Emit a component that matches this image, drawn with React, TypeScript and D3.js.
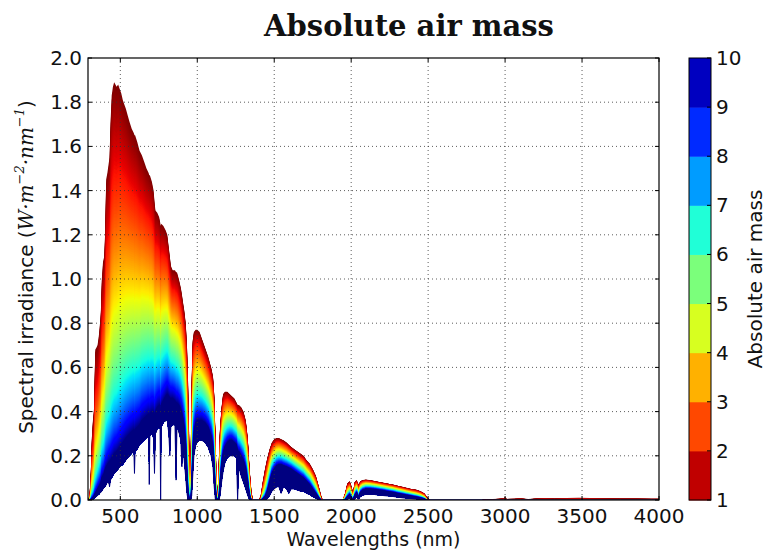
import React from "react";
import * as d3 from "d3";

// ---- data ----
const WAVELENGTH = [
  290, 300, 308, 315, 322, 330, 337, 345, 352, 360,
  368, 374, 380, 388, 395, 402, 408, 416, 424, 430,
  436, 444, 452, 460, 468, 476, 486, 496, 506, 516,
  526, 536, 548, 560, 574, 588, 592, 596, 610, 625,
  640, 655, 670, 684, 688, 692, 705, 716, 722, 728,
  740, 752, 758, 762, 766, 780, 795, 805, 815, 822,
  828, 840, 855, 862, 868, 880, 893, 900, 906, 915,
  925, 933, 940, 947, 953, 958, 964, 970, 978, 990,
  1000, 1015, 1030, 1050, 1070, 1090, 1102, 1110, 1118, 1125,
  1133, 1141, 1148, 1158, 1168, 1180, 1195, 1210, 1225, 1240,
  1255, 1262, 1270, 1285, 1300, 1315, 1328, 1340, 1352, 1362,
  1400, 1412, 1425, 1440, 1455, 1470, 1485, 1500, 1515, 1530,
  1545, 1560, 1580, 1595, 1610, 1630, 1650, 1670, 1690, 1710,
  1730, 1750, 1770, 1790, 1805, 1815, 1945, 1960, 1975, 1990,
  2003, 2012, 2022, 2035, 2048, 2060, 2075, 2095, 2120, 2150,
  2180, 2210, 2240, 2270, 2300, 2330, 2360, 2390, 2420, 2450,
  2475, 2495, 2510, 2850, 2880, 2920, 2960, 2990, 3000, 3010,
  3060, 3100, 3150, 3200, 3260, 3320, 3400, 3480, 3550, 3650,
  3750, 3850, 3950, 4000,
];
// spectral irradiance at absolute air mass 1 (upper envelope of the fill)
const AM1 = [
  0, 0.02, 0.12, 0.28, 0.36, 0.42, 0.68, 0.69, 0.7, 0.74,
  0.8, 0.86, 1.0, 1.08, 1.1, 1.22, 1.45, 1.48, 1.52, 1.55,
  1.7, 1.83, 1.87, 1.89, 1.88, 1.87, 1.88, 1.86, 1.84, 1.81,
  1.79, 1.77, 1.74, 1.71, 1.68, 1.66, 1.65, 1.65, 1.62, 1.58,
  1.56, 1.53, 1.5, 1.48, 1.47, 1.47, 1.44, 1.4, 1.35, 1.31,
  1.3, 1.28, 1.26, 1.24, 1.25, 1.24, 1.22, 1.2, 1.14, 1.1,
  1.06, 1.04, 1.04, 1.03, 1.03, 1.0, 0.96, 0.93, 0.9, 0.86,
  0.8, 0.7, 0.54, 0.3, 0.08, 0.25, 0.55, 0.72, 0.76, 0.77,
  0.77, 0.76, 0.73, 0.69, 0.65, 0.6, 0.56, 0.48, 0.3, 0.1,
  0.04, 0.2, 0.33, 0.42, 0.48, 0.49, 0.49, 0.48, 0.47, 0.46,
  0.44, 0.43, 0.43, 0.42, 0.4, 0.36, 0.28, 0.14, 0.04, 0,
  0, 0.02, 0.08, 0.14, 0.19, 0.23, 0.26, 0.275, 0.28, 0.28,
  0.275, 0.27, 0.26, 0.25, 0.24, 0.23, 0.22, 0.21, 0.2, 0.18,
  0.165, 0.14, 0.11, 0.06, 0.02, 0, 0, 0.03, 0.075, 0.085,
  0.06, 0.03, 0.08, 0.09, 0.07, 0.085, 0.09, 0.092, 0.09, 0.086,
  0.082, 0.078, 0.074, 0.07, 0.065, 0.06, 0.055, 0.05, 0.047, 0.04,
  0.03, 0.012, 0, 0, 0.003, 0.004, 0.006, 0.008, 0.013, 0.005,
  0.006, 0.008, 0.004, 0.007, 0.009, 0.007, 0.009, 0.01, 0.009, 0.008,
  0.007, 0.007, 0.006, 0.006,
];
// spectral irradiance at absolute air mass 10 (top of the navy band)
const AM10_UPPER = [
  0, 0, 0.003, 0.008, 0.012, 0.02, 0.03, 0.04, 0.05, 0.06,
  0.07, 0.08, 0.1, 0.11, 0.12, 0.14, 0.15, 0.16, 0.17, 0.175,
  0.18, 0.19, 0.2, 0.21, 0.215, 0.22, 0.23, 0.24, 0.25, 0.26,
  0.27, 0.28, 0.29, 0.3, 0.31, 0.32, 0.31, 0.32, 0.33, 0.34,
  0.36, 0.37, 0.38, 0.39, 0.38, 0.39, 0.4, 0.4, 0.38, 0.4,
  0.42, 0.43, 0.43, 0.35, 0.43, 0.45, 0.47, 0.48, 0.47, 0.46,
  0.46, 0.46, 0.45, 0.44, 0.44, 0.43, 0.41, 0.39, 0.37, 0.33,
  0.25, 0.12, 0.04, 0.01, 0, 0.01, 0.08, 0.2, 0.3, 0.35,
  0.36, 0.36, 0.36, 0.35, 0.33, 0.29, 0.24, 0.15, 0.05, 0.01,
  0, 0.02, 0.08, 0.16, 0.21, 0.24, 0.26, 0.27, 0.27, 0.26,
  0.25, 0.22, 0.22, 0.2, 0.18, 0.14, 0.08, 0.02, 0, 0,
  0, 0, 0.005, 0.015, 0.04, 0.08, 0.12, 0.14, 0.155, 0.16,
  0.16, 0.155, 0.15, 0.145, 0.14, 0.13, 0.12, 0.11, 0.1, 0.085,
  0.07, 0.05, 0.03, 0.01, 0, 0, 0, 0.003, 0.015, 0.025,
  0.01, 0.002, 0.02, 0.035, 0.015, 0.035, 0.045, 0.05, 0.05, 0.048,
  0.045, 0.042, 0.038, 0.035, 0.03, 0.026, 0.022, 0.018, 0.014, 0.01,
  0.005, 0, 0, 0, 0, 0, 0, 0, 0, 0,
  0, 0, 0, 0, 0, 0, 0, 0, 0, 0,
  0, 0, 0, 0,
];
// lowest reach of the noisy air mass 10 trace (bottom of the navy band)
const AM10_LOWER = [
  0, 0, 0, 0, 0.003, 0.005, 0.01, 0.015, 0.02, 0.025,
  0.03, 0.035, 0.04, 0.05, 0.055, 0.06, 0.07, 0.08, 0.085, 0.06,
  0.09, 0.1, 0.11, 0.12, 0.125, 0.13, 0.14, 0.15, 0.155, 0.16,
  0.17, 0.18, 0.19, 0.2, 0.21, 0.22, 0.12, 0.22, 0.23, 0.25,
  0.26, 0.27, 0.28, 0.29, 0.07, 0.29, 0.3, 0.28, 0.12, 0.3,
  0.32, 0.33, 0.32, 0, 0.33, 0.35, 0.36, 0.36, 0.3, 0.2,
  0.33, 0.34, 0.34, 0.09, 0.33, 0.31, 0.27, 0.15, 0.25, 0.18,
  0.1, 0.03, 0, 0, 0, 0, 0.02, 0.1, 0.2, 0.25,
  0.26, 0.27, 0.27, 0.26, 0.24, 0.2, 0.15, 0.06, 0, 0,
  0, 0, 0.02, 0.08, 0.13, 0.17, 0.19, 0.2, 0.2, 0.2,
  0.19, 0, 0.15, 0.11, 0.08, 0.05, 0.02, 0, 0, 0,
  0, 0, 0, 0, 0.005, 0.02, 0.04, 0.05, 0.06, 0.06,
  0.03, 0.06, 0.05, 0.03, 0.05, 0.05, 0.045, 0.04, 0.04, 0.03,
  0.025, 0.015, 0.008, 0, 0, 0, 0, 0, 0.003, 0.008,
  0, 0, 0.005, 0.012, 0.004, 0.015, 0.022, 0.025, 0.026, 0.025,
  0.022, 0.02, 0.018, 0.016, 0.013, 0.01, 0.008, 0.006, 0.004, 0.002,
  0, 0, 0, 0, 0, 0, 0, 0, 0, 0,
  0, 0, 0, 0, 0, 0, 0, 0, 0, 0,
  0, 0, 0, 0,
];

const X_TICKS = [500, 1000, 1500, 2000, 2500, 3000, 3500, 4000];
const Y_TICKS = [0, 0.2, 0.4, 0.6, 0.8, 1.0, 1.2, 1.4, 1.6, 1.8, 2.0];
const AIR_MASS_TICKS = [1, 2, 3, 4, 5, 6, 7, 8, 9, 10];
const X_DOMAIN = [290, 4000];
const Y_DOMAIN = [0, 2];
const AIR_MASS_DOMAIN = [1, 10];
const AIR_MASS_STEP = 0.05;

// matplotlib "jet" colormap segments
const JET_R = [[0, 0], [0.35, 0], [0.66, 1], [0.89, 1], [1, 0.5]];
const JET_G = [[0, 0], [0.125, 0], [0.375, 1], [0.64, 1], [0.91, 0], [1, 0]];
const JET_B = [[0, 0.5], [0.11, 1], [0.34, 1], [0.65, 0], [1, 0]];

function seg(t: number, pts: number[][]) {
  for (let i = 1; i < pts.length; i++) {
    if (t <= pts[i][0]) {
      const [x0, y0] = pts[i - 1];
      const [x1, y1] = pts[i];
      return y0 + ((t - x0) / (x1 - x0)) * (y1 - y0);
    }
  }
  return pts[pts.length - 1][1];
}
function jet(t: number) {
  const c = Math.max(0, Math.min(1, t));
  const r = Math.round(seg(c, JET_R) * 255);
  const g = Math.round(seg(c, JET_G) * 255);
  const b = Math.round(seg(c, JET_B) * 255);
  return `rgb(${r},${g},${b})`;
}

const W = 768;
const H = 551;
const M = { left: 88, right: 659, top: 58, bottom: 500 };
const CB = { left: 689, right: 711 };
const SANS = "'DejaVu Sans', sans-serif";

export default function App() {
  const x = d3.scaleLinear().domain(X_DOMAIN).range([M.left, M.right]);
  const y = d3.scaleLinear().domain(Y_DOMAIN).range([M.bottom, M.top]);
  const amColor = d3.scaleLinear().domain(AIR_MASS_DOMAIN).range([1, 0]);
  const cbY = d3.scaleLinear().domain(AIR_MASS_DOMAIN).range([M.bottom, M.top]);

  const masses = d3.range(AIR_MASS_DOMAIN[0], AIR_MASS_DOMAIN[1] + 1e-9, AIR_MASS_STEP);
  const n = Math.min(WAVELENGTH.length, AM1.length, AM10_UPPER.length, AM10_LOWER.length);
  const idx = d3.range(n);

  // attenuation between the two read envelopes (Beer–Lambert in air mass)
  const level = (i: number, m: number) => {
    const top = AM1[i];
    if (top <= 0) return AM10_LOWER[i];
    const ratio = Math.max(AM10_UPPER[i] / top, 1e-4);
    const f = (m - AIR_MASS_DOMAIN[0]) / (AIR_MASS_DOMAIN[1] - AIR_MASS_DOMAIN[0]);
    return Math.max(top * Math.pow(ratio, f), AM10_LOWER[i]);
  };

  const layers = masses.map((m, k) => {
    const area = d3
      .area<number>()
      .x((i) => x(WAVELENGTH[i]))
      .y0((i) => y(AM10_LOWER[i]))
      .y1((i) => y(level(i, m)));
    return { m, last: k === masses.length - 1, d: area(idx) || "", color: jet(amColor(m)) };
  });

  const bands = d3.range(AIR_MASS_DOMAIN[0], AIR_MASS_DOMAIN[1]);

  return (
    <svg
      width={W}
      height={H}
      style={{ position: "absolute", left: 0, top: 0, background: "#fff" }}
      fontFamily={SANS}
    >
      <defs>
        <clipPath id="plotClip">
          <rect x={M.left} y={M.top} width={M.right - M.left} height={M.bottom - M.top} />
        </clipPath>
      </defs>
      <rect x={0} y={0} width={W} height={H} fill="#fff" />

      <text
        x={409}
        y={36}
        textAnchor="middle"
        fontFamily="'DejaVu Serif', serif"
        fontWeight="bold"
        fontSize={29}
        fill="#111"
      >
        Absolute air mass
      </text>

      <g clipPath="url(#plotClip)">
        {layers.map((l) => (
          <path
            key={l.m}
            d={l.d}
            fill={l.color}
            stroke={l.last ? l.color : "none"}
            strokeWidth={l.last ? 0.9 : 0}
            strokeLinejoin="miter"
          />
        ))}
      </g>

      {/* grid */}
      <g stroke="#333" strokeWidth={0.8} strokeDasharray="1,3">
        {X_TICKS.filter((t) => x(t) < M.right - 1).map((t) => (
          <line key={"gx" + t} x1={x(t)} x2={x(t)} y1={M.top} y2={M.bottom} />
        ))}
        {Y_TICKS.filter((t) => y(t) > M.top + 1 && y(t) < M.bottom - 1).map((t) => (
          <line key={"gy" + t} x1={M.left} x2={M.right} y1={y(t)} y2={y(t)} />
        ))}
      </g>

      {/* ticks */}
      <g stroke="#000" strokeWidth={1}>
        {X_TICKS.map((t) => (
          <g key={"tx" + t}>
            <line x1={x(t)} x2={x(t)} y1={M.bottom} y2={M.bottom - 4} />
            <line x1={x(t)} x2={x(t)} y1={M.top} y2={M.top + 4} />
          </g>
        ))}
        {Y_TICKS.map((t) => (
          <g key={"ty" + t}>
            <line x1={M.left} x2={M.left + 4} y1={y(t)} y2={y(t)} />
            <line x1={M.right} x2={M.right - 4} y1={y(t)} y2={y(t)} />
          </g>
        ))}
      </g>
      <rect
        x={M.left}
        y={M.top}
        width={M.right - M.left}
        height={M.bottom - M.top}
        fill="none"
        stroke="#000"
        strokeWidth={1.2}
      />

      {/* tick labels */}
      <g fontSize={20} fill="#111">
        {X_TICKS.map((t) => (
          <text key={"lx" + t} x={x(t)} y={M.bottom + 23} textAnchor="middle">
            {t}
          </text>
        ))}
        {Y_TICKS.map((t) => (
          <text key={"ly" + t} x={M.left - 6} y={y(t) + 7} textAnchor="end">
            {t.toFixed(1)}
          </text>
        ))}
      </g>

      <text x={(M.left + M.right) / 2} y={546} textAnchor="middle" fontSize={19} fill="#111">
        Wavelengths (nm)
      </text>

      <text
        transform={`translate(33, ${(M.top + M.bottom) / 2 - 12}) rotate(-90)`}
        textAnchor="middle"
        fontSize={20}
        fill="#111"
      >
        Spectral irradiance (
        <tspan fontFamily="'DejaVu Serif', serif" fontStyle="italic">W·m</tspan>
        <tspan fontFamily="'DejaVu Serif', serif" fontStyle="italic" fontSize={13} dy={-9}>−2</tspan>
        <tspan fontFamily="'DejaVu Serif', serif" fontStyle="italic" dy={9}>·nm</tspan>
        <tspan fontFamily="'DejaVu Serif', serif" fontStyle="italic" fontSize={13} dy={-9}>−1</tspan>
        <tspan dy={9}>)</tspan>
      </text>

      {/* colorbar */}
      <g>
        {bands.map((b) => (
          <rect
            key={"cb" + b}
            x={CB.left}
            y={cbY(b + 1)}
            width={CB.right - CB.left}
            height={cbY(b) - cbY(b + 1) + 0.5}
            fill={jet(amColor(b + 0.5))}
          />
        ))}
        <rect
          x={CB.left}
          y={M.top}
          width={CB.right - CB.left}
          height={M.bottom - M.top}
          fill="none"
          stroke="#000"
          strokeWidth={1}
        />
        {AIR_MASS_TICKS.map((t) => (
          <g key={"cbt" + t}>
            <line x1={CB.right} x2={CB.right - 4} y1={cbY(t)} y2={cbY(t)} stroke="#000" />
            <text x={CB.right + 5} y={cbY(t) + 7} fontSize={20} fill="#111">
              {t}
            </text>
          </g>
        ))}
        <text
          transform={`translate(762, ${(M.top + M.bottom) / 2}) rotate(-90)`}
          textAnchor="middle"
          fontSize={20}
          fill="#111"
        >
          Absolute air mass
        </text>
      </g>
    </svg>
  );
}
